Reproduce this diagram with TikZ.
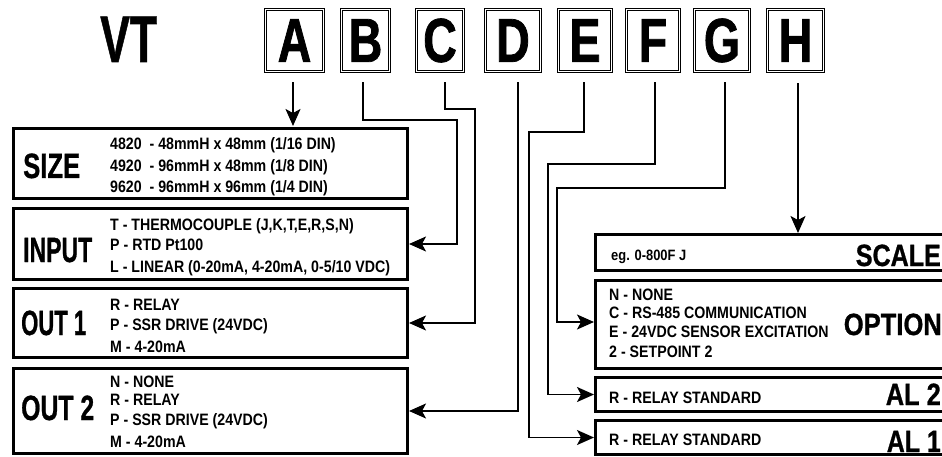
\documentclass[tikz,border=0pt]{standalone}
\usepackage{fontspec}
\setmainfont{Liberation Sans}
\newfontfamily\cnd[FakeStretch=0.86]{Liberation Sans}
\newfontfamily\cndL[FakeStretch=0.75,FakeBold=1.2]{Liberation Sans Bold}
\newfontfamily\heavy[FakeBold=1.0]{Liberation Sans Bold}
\usetikzlibrary{arrows.meta,calc}
\newcommand\fitw[2]{\resizebox{#1}{\height}{#2}}
\begin{document}
\begin{tikzpicture}[x=1pt,y=-1pt,
  letterbox/.style={draw, line width=1.3pt, double=white, double distance=0.8pt, inner sep=0, minimum height=62pt,
     font=\cndL\fontsize{62}{62}\selectfont},
  bigbox/.style={draw, line width=3pt, inner sep=0},
  conn/.style={line width=1.6pt},
  arr/.style={conn, -{Stealth[length=17pt,width=15pt,inset=4pt]}},
  ln/.style={anchor=base west, inner sep=0, font=\cnd\bfseries\fontsize{16.5}{21}\selectfont},
  biglab/.style={anchor=base west, inner sep=0, font=\heavy\fontsize{35}{35}\selectfont},
  rlab/.style={anchor=base east, inner sep=0, font=\heavy\fontsize{30.7}{31}\selectfont},
]
\useasboundingbox (0,0) rectangle (942,457);
\clip (0,0) rectangle (942,457);

% title and letter boxes
\node[anchor=base west, inner sep=0, font=\heavy\fontsize{66}{66}\selectfont] (VT) at (100,62) {\fitw{57pt}{VT}};
\node[letterbox, minimum width=58pt] (A) at (294.5,40.5) {A};
\node[letterbox, minimum width=48pt] (B) at (365.5,40.5) {B};
\node[letterbox, minimum width=47pt] (C) at (440,40.5) {C};
\node[letterbox, minimum width=55pt] (D) at (513,40.5) {D};
\node[letterbox, minimum width=53pt] (E) at (585,40.5) {E};
\node[letterbox, minimum width=53pt] (F) at (653,40.5) {F};
\node[letterbox, minimum width=55pt] (G) at (722,40.5) {G};
\node[letterbox, minimum width=56pt] (H) at (795.5,40.5) {H};

% left boxes
\node[bigbox, minimum width=394pt, minimum height=70pt] (SIZE) at (210.5,163.5) {};
\node[bigbox, minimum width=394pt, minimum height=71pt] (INPUT) at (210.5,244) {};
\node[bigbox, minimum width=394pt, minimum height=69pt] (OUT1) at (210.5,323) {};
\node[bigbox, minimum width=394pt, minimum height=85pt] (OUT2) at (210.5,411) {};

% right boxes
\node[bigbox, minimum width=362.5pt, minimum height=36pt] (SCALE) at (776.75,252.5) {};
\node[bigbox, minimum width=362.5pt, minimum height=88pt] (OPTION) at (776.75,324.5) {};
\node[bigbox, minimum width=362.5pt, minimum height=34pt] (AL2) at (776.75,394.5) {};
\node[bigbox, minimum width=362.5pt, minimum height=34pt] (AL1) at (776.75,437.5) {};

% left labels
\node[biglab] (tSIZE) at (23,178) {\fitw{57pt}{SIZE}};
\node[biglab] (tINPUT) at (23,262) {\fitw{69pt}{INPUT}};
\node[biglab] (tOUT1) at (21,335) {\fitw{65pt}{OUT 1}};
\node[biglab] (tOUT2) at (21,420) {\fitw{73pt}{OUT 2}};

% left lists
\node[ln] (s1) at (110,150) {4820\ \ - 48mmH x 48mm (1/16 DIN)};
\node[ln] (s2) at (110,172) {4920\ \ - 96mmH x 48mm (1/8 DIN)};
\node[ln] (s3) at (110,193) {9620\ \ - 96mmH x 96mm (1/4 DIN)};
\node[ln] (i1) at (110,230) {T - THERMOCOUPLE (J,K,T,E,R,S,N)};
\node[ln] (i2) at (110,250) {P - RTD Pt100};
\node[ln] (i3) at (110,272) {L - LINEAR (0-20mA, 4-20mA, 0-5/10 VDC)};
\node[ln] (o11) at (110,310) {R - RELAY};
\node[ln] (o12) at (110,330) {P - SSR DRIVE (24VDC)};
\node[ln] (o13) at (110,352) {M - 4-20mA};
\node[ln] (o21) at (110,387) {N - NONE};
\node[ln] (o22) at (110,405) {R - RELAY};
\node[ln] (o23) at (110,425) {P - SSR DRIVE (24VDC)};
\node[ln] (o24) at (110,447) {M - 4-20mA};

% right labels
\node[rlab] (tSCALE) at (941,266) {\fitw{85pt}{SCALE}};
\node[rlab] (tOPTION) at (942,335) {\fitw{98pt}{OPTION}};
\node[rlab] (tAL2) at (941,405) {\fitw{55pt}{AL 2}};
\node[rlab] (tAL1) at (941,452) {\fitw{54pt}{AL 1}};

% right lists
\node[ln, font=\cnd\bfseries\fontsize{15}{17}\selectfont] (sc) at (611,260) {eg. 0-800F J};
\node[ln] (p1) at (609,300) {N - NONE};
\node[ln] (p2) at (609,318) {C - RS-485 COMMUNICATION};
\node[ln] (p3) at (609,337) {E - 24VDC SENSOR EXCITATION};
\node[ln] (p4) at (609,357) {2 - SETPOINT 2};
\node[ln] (a2) at (609,403) {R - RELAY STANDARD};
\node[ln] (a1) at (609,445) {R - RELAY STANDARD};

% connectors
\draw[arr] ([xshift=-1.5pt,yshift=-10pt]A.south) -- ([xshift=-1.5pt,yshift=1pt]A.south |- SIZE.north);
\draw[arr] ([xshift=-2.5pt,yshift=-10pt]B.south) |- (457,120) |- (INPUT.east);
\draw[arr] ([xshift=5pt,yshift=-10pt]C.south) |- (475,109) |- (OUT1.east);
\draw[arr] ([xshift=5pt,yshift=-10pt]D.south) |- (OUT2.east);
\draw[arr] ([xshift=-1pt,yshift=-10pt]E.south) |- (529,132) |- (AL1.west);
\draw[arr] ([xshift=2pt,yshift=-10pt]F.south) |- (548,164) |- (AL2.west);
\draw[arr] ([xshift=3pt,yshift=-10pt]G.south) |- (557,188) |- ([yshift=2.5pt]OPTION.west);
\draw[arr] ([xshift=2.5pt,yshift=-11pt]H.south) -- ([xshift=2.5pt]H.south |- SCALE.north);
\end{tikzpicture}
\end{document}
